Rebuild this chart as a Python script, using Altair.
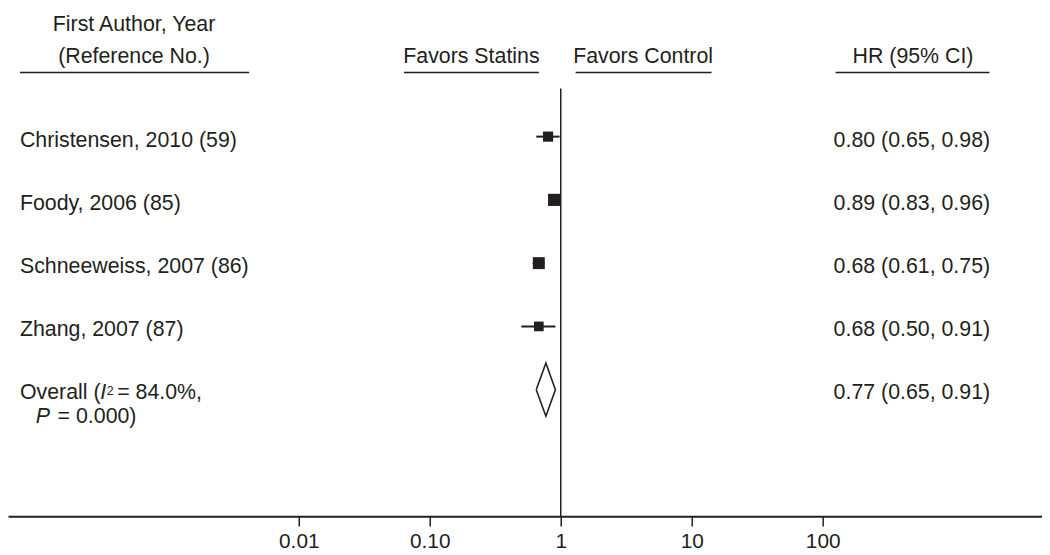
import altair as alt
import pandas as pd

# ---- data ----
studies = ["Christensen, 2010 (59)", "Foody, 2006 (85)", "Schneeweiss, 2007 (86)", "Zhang, 2007 (87)"]
hr = [0.80, 0.89, 0.68, 0.68]
ci_lo = [0.65, 0.83, 0.61, 0.50]
ci_hi = [0.98, 0.96, 0.75, 0.91]
weights = [21, 30, 29, 19]
hr_text = ["0.80 (0.65, 0.98)", "0.89 (0.83, 0.96)", "0.68 (0.61, 0.75)", "0.68 (0.50, 0.91)"]
overall_hr = 0.77
overall_lo = 0.65
overall_hi = 0.91
overall_text = "0.77 (0.65, 0.91)"
tick_values = [0.01, 0.1, 1, 10, 100]
tick_labels = ["0.01", "0.10", "1", "10", "100"]
header_texts = ["First Author, Year", "(Reference No.)", "Favors Statins", "Favors Control", "HR (95% CI)"]

FONT = "Liberation Sans"
INK = "#231f20"
FS = 21.5

rows = list(range(1, len(studies) + 1))
overall_row = len(studies) + 1

df = pd.DataFrame({"study": studies, "hr": hr, "lo": ci_lo, "hi": ci_hi,
                   "weight": weights, "hr_text": hr_text, "row": rows})
ov = pd.DataFrame({"row": [overall_row], "hr_text": [overall_text]})
one = pd.DataFrame({"k": [0]})
diamond = pd.DataFrame({
    "x": [overall_lo, overall_hr, overall_hi, overall_hr, overall_lo],
    "y": [overall_row, overall_row - 0.42, overall_row, overall_row + 0.42, overall_row],
    "o": [0, 1, 2, 3, 4],
})

label_expr = "".join(f"datum.value == {v} ? '{l}' : " for v, l in zip(tick_values, tick_labels)) + "''"

xscale = alt.Scale(type="log", domain=[10 ** -4.22, 10 ** 3.674], nice=False)
yscale = alt.Scale(domain=[-1, 7], reverse=True, nice=False, zero=False)

xaxis = alt.Axis(values=tick_values, labelExpr=label_expr, title=None, grid=False,
                 domainColor=INK, domainWidth=2, tickColor=INK, tickWidth=1.5, tickSize=10,
                 labelFont=FONT, labelFontSize=21, labelColor=INK, labelPadding=5,
                 labelFlush=False, labelOverlap=False)

base = alt.Chart(df)

ci = base.mark_rule(color=INK, strokeWidth=2).encode(
    x=alt.X("lo:Q", scale=xscale, axis=xaxis),
    x2="hi:Q",
    y=alt.Y("row:Q", scale=yscale, axis=None),
)

squares = base.mark_square(color=INK, opacity=1).encode(
    x=alt.X("hr:Q", scale=xscale),
    y=alt.Y("row:Q", scale=yscale),
    size=alt.Size("weight:Q", scale=alt.Scale(domain=[0, 100], range=[0, 500]), legend=None),
)

dia = alt.Chart(diamond).mark_line(color=INK, strokeWidth=1.6).encode(
    x=alt.X("x:Q", scale=xscale),
    y=alt.Y("y:Q", scale=yscale),
    order="o:Q",
)

vline = alt.Chart(one).mark_rule(color=INK, strokeWidth=1.5).encode(
    x=alt.X(datum=1, scale=xscale),
    y=alt.value(79),
    y2=alt.value(510),
)

labels = base.mark_text(align="left", baseline="alphabetic", font=FONT, fontSize=FS, color=INK, dy=10).encode(
    x=alt.value(12), y=alt.Y("row:Q", scale=yscale), text="study:N")

hr_lab = base.mark_text(align="left", baseline="alphabetic", font=FONT, fontSize=FS, color=INK, dy=10).encode(
    x=alt.value(832), y=alt.Y("row:Q", scale=yscale), text="hr_text:N")

ovb = alt.Chart(ov)
ov_hr = ovb.mark_text(align="left", baseline="alphabetic", font=FONT, fontSize=FS, color=INK, dy=9).encode(
    x=alt.value(832), y=alt.Y("row:Q", scale=yscale), text="hr_text:N")


def piece(txt, xpx, dy, size=FS, style="normal"):
    return ovb.mark_text(align="left", baseline="alphabetic", font=FONT, fontSize=size,
                         fontStyle=style, color=INK, dy=dy).encode(
        x=alt.value(xpx), y=alt.Y("row:Q", scale=yscale), text=alt.value(txt))


ov_pieces = [
    piece("Overall (", 12, 9),
    piece("I", 93, 9, style="italic"),
    piece("2", 99.5, 5, size=12.5),
    piece("= 84.0%,", 110, 9),
    piece("P", 28, 34, style="italic"),
    piece("= 0.000)", 50, 34),
]

hdr_pos = [(127, 21), (127, 53), (467, 53), (640, 53), (912, 53)]
hdr_layers = [
    alt.Chart(one).mark_text(align="center", baseline="alphabetic", font=FONT, fontSize=FS, color=INK).encode(
        x=alt.value(px), y=alt.value(py), text=alt.value(t))
    for t, (px, py) in zip(header_texts, hdr_pos)
]

underlines = [(12, 243), (399, 535), (572, 709), (834, 989)]
ul_layers = [
    alt.Chart(one).mark_rule(color=INK, strokeWidth=1.5).encode(
        x=alt.value(a), x2=alt.value(b), y=alt.value(63))
    for a, b in underlines
]

chart = alt.layer(
    vline, ci, squares, dia, labels, hr_lab, ov_hr, *ov_pieces, *hdr_layers, *ul_layers
).properties(width=1042, height=510, padding=0).configure_view(stroke=None)

chart.save("out.html", embed_options={"renderer": "svg", "actions": False})
